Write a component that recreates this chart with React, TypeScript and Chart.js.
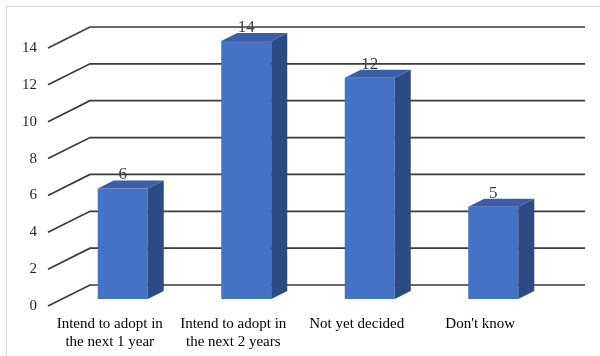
import React, { useEffect, useRef } from "react";
import { Chart, registerables } from "chart.js";

Chart.register(...registerables);

const categories: string[][] = [
  ["Intend to adopt in", "the next 1 year"],
  ["Intend to adopt in", "the next 2 years"],
  ["Not yet decided"],
  ["Don't know"],
];
const responses: number[] = [6, 14, 12, 5];
const yTicks: number[] = [0, 2, 4, 6, 8, 10, 12, 14];

const FONT = "'Liberation Serif', 'Times New Roman', serif";
const FRONT = "#4472C4";
const SIDE = "#2C4A84";
const TOP = "#3A5FA6";
const GRID = "#3a3a3a";

// perspective offsets of the floor/walls relative to the bar front plane
const WALL_DX = 29;
const WALL_DY = -14;
const EDGE_DX = -13;
const EDGE_DY = 7;
const BAR_DX = 16;
const BAR_DY = -8;

const wallPlugin = {
  id: "wall3d",
  beforeDatasetsDraw(chart: any) {
    const { ctx, chartArea, scales } = chart;
    const y = scales.y;
    ctx.save();
    ctx.strokeStyle = GRID;
    ctx.lineWidth = 1.7;
    for (const v of yTicks) {
      const py = y.getPixelForValue(v);
      ctx.beginPath();
      ctx.moveTo(chartArea.left + EDGE_DX, py + EDGE_DY);
      ctx.lineTo(chartArea.left + WALL_DX, py + WALL_DY);
      ctx.lineTo(chartArea.right + WALL_DX + 1, py + WALL_DY);
      ctx.stroke();
    }
    ctx.restore();
  },
  afterDatasetsDraw(chart: any) {
    const { ctx } = chart;
    const meta = chart.getDatasetMeta(0);
    ctx.save();
    meta.data.forEach((bar: any, i: number) => {
      const half = bar.width / 2;
      const l = bar.x - half;
      const r = bar.x + half;
      const t = bar.y;
      const b = bar.base;
      // side face
      ctx.fillStyle = SIDE;
      ctx.beginPath();
      ctx.moveTo(r, t);
      ctx.lineTo(r + BAR_DX, t + BAR_DY);
      ctx.lineTo(r + BAR_DX, b + BAR_DY);
      ctx.lineTo(r, b);
      ctx.closePath();
      ctx.fill();
      // top face
      ctx.fillStyle = TOP;
      ctx.beginPath();
      ctx.moveTo(l, t);
      ctx.lineTo(l + BAR_DX, t + BAR_DY);
      ctx.lineTo(r + BAR_DX, t + BAR_DY);
      ctx.lineTo(r, t);
      ctx.closePath();
      ctx.fill();
      // value label
      ctx.fillStyle = "#404040";
      ctx.font = `17px ${FONT}`;
      ctx.textAlign = "center";
      ctx.textBaseline = "alphabetic";
      ctx.fillText(String(responses[i]), bar.x, t - 9);
    });
    ctx.restore();
  },
};

export default function App() {
  const ref = useRef<HTMLCanvasElement | null>(null);

  useEffect(() => {
    if (!ref.current) return;
    const chart = new Chart(ref.current, {
      type: "bar",
      data: {
        labels: categories,
        datasets: [
          {
            data: responses,
            backgroundColor: FRONT,
            borderWidth: 0,
            categoryPercentage: 1,
            barPercentage: 0.405,
          },
        ],
      },
      options: {
        responsive: false,
        animation: false,
        layout: { padding: { top: 41, right: 45, bottom: 0, left: 0 } },
        plugins: { legend: { display: false }, tooltip: { enabled: false } },
        scales: {
          x: {
            grid: { display: false, drawTicks: false },
            border: { display: false },
            ticks: {
              color: "#000",
              font: { family: FONT, size: 15, lineHeight: 1.2 },
              padding: 16,
              labelOffset: -13,
              maxRotation: 0,
              autoSkip: false,
            },
            afterFit: (s: any) => {
              s.height = 57;
            },
          },
          y: {
            min: 0,
            max: 14,
            grid: { display: false, drawTicks: false },
            border: { display: false },
            ticks: {
              stepSize: 2,
              color: "#262626",
              font: { family: FONT, size: 15 },
              padding: 24,
              labelOffset: 7,
            },
            afterFit: (s: any) => {
              s.width = 61;
            },
          },
        },
      },
      plugins: [wallPlugin],
    });
    return () => chart.destroy();
  }, []);

  return (
    <div style={{ position: "fixed", left: 0, top: 0, width: 600, height: 356, background: "#fff" }}>
      <div
        style={{
          position: "absolute",
          left: 6,
          top: 6,
          width: 594,
          height: 350,
          borderLeft: "1px solid #d9d9d9",
          borderTop: "1px solid #d9d9d9",
        }}
      />
      <canvas ref={ref} width={600} height={356} style={{ position: "absolute", left: 0, top: 0 }} />
    </div>
  );
}
